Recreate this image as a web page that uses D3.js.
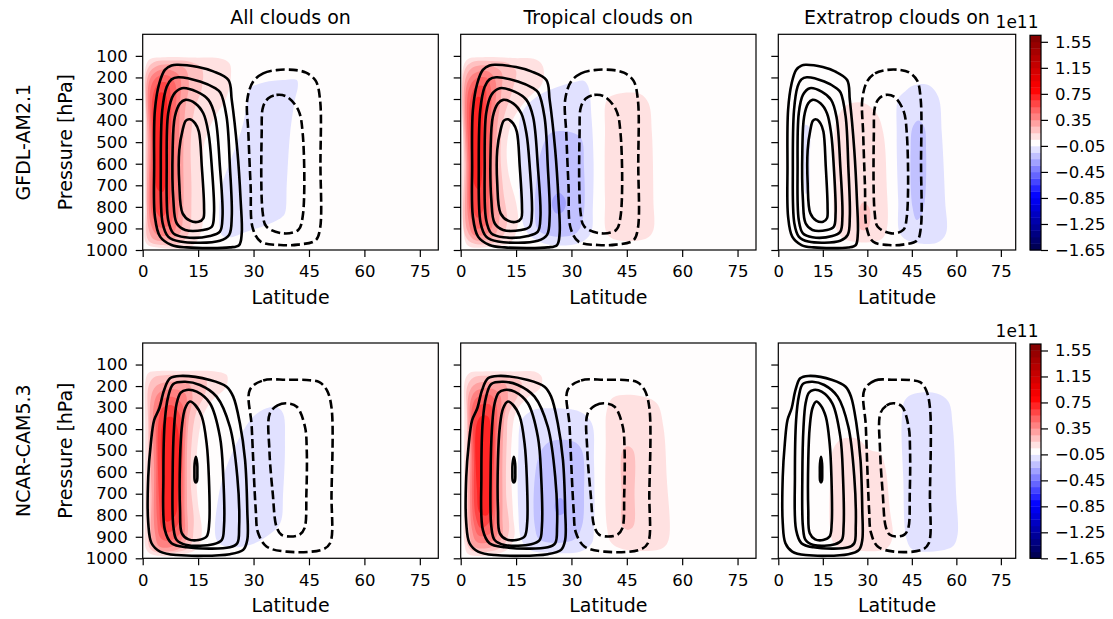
<!DOCTYPE html>
<html>
<head>
<meta charset="utf-8">
<script src="https://cdn.jsdelivr.net/npm/d3@7"></script>
<style>
  body { margin: 0; background: #fff; }
  svg text { font-family: "DejaVu Sans", sans-serif; fill: #000; }
</style>
</head>
<body>
<div id="chart"></div>
<script>
/**
 * DATA
 * latitude in degrees, pressure in hPa, shading in units of 1e11
 * */
const models = ["GFDL-AM2.1", "NCAR-CAM5.3"];
const experiments = ["All clouds on", "Tropical clouds on", "Extratrop clouds on"];
const latTicks = [0, 15, 30, 45, 60, 75];
const pressureTicks = [100, 200, 300, 400, 500, 600, 700, 800, 900, 1000];
const cbarTicks = [-1.65, -1.25, -0.85, -0.45, -0.05, 0.35, 0.75, 1.15, 1.55];
const cbarLevels = [-1.65, -1.55, -1.45, -1.35, -1.25, -1.15, -1.05, -0.95, -0.85, -0.75, -0.65,
  -0.55, -0.45, -0.35, -0.25, -0.15, -0.05, 0.05, 0.15, 0.25, 0.35, 0.45, 0.55, 0.65, 0.75,
  0.85, 0.95, 1.05, 1.15, 1.25, 1.35, 1.45, 1.55, 1.65];

// control streamfunction contours (same in every column of a row)
const gfdlPsiPos = [
  [[7.8,145],[9.2,141],[15,152],[19.1,172],[23.2,212],[24.1,304],[25.6,536],[26.5,768],[26.8,923],[26.1,977],[23.6,988],[11.9,988],[7.8,977],[4.7,938],[3.3,845],[3.1,614],[3.3,351],[4.5,227],[6,165]],
  [[7.8,209],[9.6,199],[15.5,219],[19.6,250],[21,270],[22.7,382],[23.6,614],[24.1,845],[23.4,930],[20.9,957],[10.1,961],[6.9,938],[5.4,876],[4.9,614],[5.3,351],[6.5,243]],
  [[8.3,281],[10.6,250],[14.6,266],[17.8,304],[19.6,382],[20.9,614],[21.6,845],[20.9,915],[18.2,935],[11.5,941],[8.3,923],[6.9,861],[6.5,614],[6.9,366]],
  [[10.1,320],[11.5,304],[14.2,320],[16.4,366],[17.8,459],[18.7,614],[19.3,830],[18.7,892],[16.4,907],[11.5,907],[9.2,876],[8.3,768],[8.1,536],[8.7,382]],
  [[11.7,400],[12.8,394],[14.2,413],[15.2,451],[16,614],[16.6,799],[16.4,853],[15.1,869],[12.8,864],[10.8,830],[9.9,691],[9.9,536],[10.8,444]]
];
const gfdlPsiNeg = [
  [[29.9,219],[32.6,181],[36.2,166],[40.8,165],[44.2,178],[46.8,215],[48,304],[48.1,600],[48,900],[46.8,955],[42,975],[37.2,977],[32,962],[29.8,900],[29.2,700],[28.6,459],[28.3,304]],
  [[34,297],[36.2,281],[39,289],[42.1,351],[43.3,459],[43.3,845],[42.1,907],[38.1,923],[33.5,892],[32.5,830],[32.2,459],[32.6,335]]
];
const ncarPsiPos = [
  [[7.4,164],[10.1,153],[18.2,172],[22.7,203],[24.5,249],[26.3,373],[27.7,543],[28.3,776],[28.3,915],[27.2,961],[23.6,981],[9.2,985],[4.7,969],[2.4,930],[1.5,837],[1.5,621],[2.2,466],[3.1,358],[4.5,303],[5.8,218]],
  [[8.3,190],[11.5,180],[15.5,195],[20,249],[23.6,389],[25.6,621],[26.1,853],[25.6,930],[23.6,949],[11.9,949],[7.8,930],[6,868],[5.6,621],[6,358],[6.9,249]],
  [[10.3,231],[11.9,218],[14.6,226],[18.2,280],[20.9,435],[21.8,621],[22,853],[21.4,915],[19.1,935],[11.9,938],[9.2,915],[8.3,853],[8.1,621],[8.5,389],[9.2,280]],
  [[11.5,303],[12.8,272],[14.2,288],[16,342],[17.3,466],[17.9,621],[18,837],[17.3,899],[15.1,915],[12.4,912],[10.6,884],[10.1,776],[10.1,543],[10.6,389]],
  [[14.4,528],[14.75,560],[14.8,600],[14.7,640],[14.4,648],[14.1,640],[14.0,600],[14.05,560]]
];
const ncarPsiNeg = [
  [[29,218],[32.6,174],[39,171],[44.4,172],[47.8,182],[49.8,218],[51.1,300],[51.1,700],[50.7,930],[48.5,960],[39,969],[33.5,945],[31.2,880],[30.6,776],[29.5,388]],
  [[34.4,327],[36.5,290],[39,280],[41.7,296],[43.9,388],[44.4,500],[44.3,700],[43.8,860],[42.5,890],[39.9,899],[37.5,890],[36.2,853],[35.2,700],[34.3,500]]
];

// shading: [band value, outline]
const gfdlAllShade = [
  [0.1, [[0.8,150],[2,115],[6,106],[14,108],[21,112],[23.5,135],[23.8,210],[22.5,300],[19,400],[16.5,520],[16.3,750],[16,900],[13.5,980],[4,988],[1,970],[0.7,800],[0.7,400]]],
  [0.2, [[1.1,170],[3,130],[8,122],[13,128],[16,160],[16,250],[14,350],[13,500],[13.2,750],[12.5,920],[10,970],[4,975],[1.5,955],[1.1,800],[1,400]]],
  [0.3, [[1.5,190],[3.5,150],[8,140],[11.5,160],[12.5,230],[11.5,350],[11,550],[11,800],[10,925],[7,955],[3,950],[1.6,900],[1.4,500]]],
  [0.4, [[1.9,210],[4,170],[7.5,165],[10,195],[10,350],[9.6,600],[9.5,850],[8,925],[4,930],[2.2,880],[1.9,500]]],
  [0.5, [[2.3,240],[4.2,195],[7,192],[8.8,230],[8.6,450],[8.4,750],[7.5,880],[4.5,895],[2.6,840],[2.3,500]]],
  [0.6, [[2.8,280],[4.5,225],[6.8,228],[7.6,290],[7.4,600],[7,800],[5,850],[3.2,800],[2.8,550]]],
  [0.7, [[3.4,330],[4.8,270],[6.2,280],[6.5,400],[6.3,650],[5.5,730],[4,720],[3.4,600]]],
  [-0.1, [[29,250],[33,222],[38,212],[41.7,212],[42,240],[41.2,304],[39.9,459],[39,691],[38.5,830],[37.5,850],[33.5,884],[28.1,915],[23.6,941],[21.4,930],[20.7,845],[21.4,706],[24.5,552],[27.2,413],[28.6,274]]]
];
const gfdlTropShade = [
  [0.1, [[0.7,150],[2,114],[6,106],[14,110],[20.5,118],[22.3,150],[22,230],[18,300],[14,400],[12.5,520],[13,650],[15,780],[15.5,880],[13.5,965],[8,985],[2,980],[0.7,900],[0.6,450]]],
  [0.2, [[1,170],[3,130],[8,124],[13,135],[15,170],[14,260],[11.5,400],[10.8,550],[11.5,720],[12.5,880],[10.5,955],[4,972],[1.4,940],[1,600]]],
  [0.3, [[1.4,200],[3.5,152],[8,146],[11,175],[11,270],[9.8,450],[9.5,650],[10.5,850],[9,935],[4,955],[1.8,910],[1.4,600]]],
  [0.4, [[1.8,225],[4,178],[7.5,172],[9.4,215],[9,400],[8.5,600],[9,850],[7.5,920],[3.5,930],[2.1,860],[1.8,600]]],
  [0.5, [[2.2,255],[4.2,205],[7,202],[8.2,255],[7.8,500],[7.6,750],[7,880],[4,900],[2.5,830],[2.2,600]]],
  [0.6, [[2.7,295],[4.4,240],[6.5,245],[7,320],[6.8,600],[6.4,800],[4.5,850],[3,780],[2.7,550]]],
  [0.7, [[3.3,345],[4.6,290],[5.8,300],[6,420],[5.8,650],[5,720],[3.8,700],[3.3,550]]],
  [-0.1, [[16.2,380],[18.5,320],[22,275],[26,245],[30,225],[33.3,215],[34.5,240],[35.5,400],[36,600],[35.8,800],[35.3,920],[32.5,965],[25,978],[20.5,955],[17.5,905],[16.1,780],[15.9,550]]],
  [-0.2, [[24.2,460],[28.5,450],[32.5,480],[33.4,614],[33.2,845],[31.4,920],[26,938],[21,907],[20.1,799],[20.5,680],[21.5,560]]],
  [-0.3, [[26.6,735],[28.2,760],[28.5,790],[27.5,825],[25.8,830],[24.8,800],[25,760]]],
  [0.1, [[39.6,304],[42.3,277],[48.6,277],[50.9,320],[51.8,459],[52.2,768],[52.2,907],[50.4,946],[42.3,954],[39.6,923],[39.1,768],[39.1,459]]]
];
const gfdlExtraShade = [
  [0.1, [[18.8,490],[19.7,397],[23,328],[28.7,318],[33.1,366],[35.4,459],[36.5,691],[36.5,907],[34.3,954],[23,954],[19.7,907],[18.5,691]]],
  [0.2, [[28.5,780],[30.5,800],[31,860],[30,905],[27.8,905],[27.2,850],[27.5,800]]],
  [-0.1, [[9,420],[10.3,430],[10.6,600],[10.4,720],[9.3,740],[8.6,620],[8.6,460]]],
  [-0.1, [[42.7,265],[45.5,237],[50.5,235],[53.9,289],[55.1,459],[56.2,768],[56.5,923],[53.4,966],[44.4,961],[41,923],[40.4,768],[39.9,459],[40.4,300]]],
  [-0.2, [[47.2,400],[49.2,430],[49.8,536],[49.4,768],[48.2,840],[46.6,861],[45.2,800],[44.6,536],[45.3,430]]]
];
const ncarAllShade = [
  [0.1, [[0.8,170],[1.6,138],[4,130],[12,130],[20,133],[22.8,150],[22.5,205],[19,262],[16.5,330],[15,450],[14.5,600],[15,750],[16,870],[15,950],[11,982],[3,985],[1,960],[0.7,800],[0.7,400]]],
  [0.2, [[1.6,200],[3,160],[6,150],[12,150],[17,165],[17,230],[14.5,320],[13.3,450],[13,650],[13.8,850],[12.5,950],[5,975],[2,955],[1.6,800],[1.5,400]]],
  [0.3, [[2.4,240],[4,195],[8,180],[12.5,190],[13.5,250],[12.5,350],[12,500],[12,750],[12,900],[10,955],[5,965],[2.8,930],[2.4,700]]],
  [0.4, [[3.1,280],[4.5,230],[8,215],[11.5,235],[11.8,330],[11.4,500],[11.3,750],[11,900],[8,945],[4.5,945],[3.3,880],[3.1,600]]],
  [0.5, [[3.8,310],[5,265],[8,250],[10.8,290],[10.8,450],[10.7,750],[10.2,880],[7,920],[4.8,905],[3.9,820],[3.7,550]]],
  [0.6, [[4.4,350],[5.5,300],[8,290],[10.2,340],[10.2,700],[9.6,840],[7,880],[5.2,860],[4.5,750]]],
  [0.7, [[5.1,400],[6.2,350],[8,345],[9.5,400],[9.5,700],[8.8,800],[6.5,830],[5.4,780],[5.1,600]]],
  [-0.1, [[33.5,303],[36.2,296],[38,327],[38.5,466],[38,698],[37.2,837],[33.5,899],[29,938],[22.7,946],[20,915],[20.5,714],[22.7,574],[26.3,435],[29.9,342]]]
];
const ncarTropShade = [
  [0.1, [[1.2,170],[2.5,138],[6,132],[14,132],[20.5,136],[22,160],[21.5,210],[18,255],[15,320],[13.8,450],[13.7,620],[14.2,800],[14.5,900],[12.5,962],[6,988],[2,980],[1,930],[0.9,700],[1,350]]],
  [0.2, [[1.8,200],[3.5,160],[8,152],[14,158],[16.5,185],[15.5,245],[13,330],[12.5,450],[12.3,700],[13,880],[11,950],[4,970],[2,945],[1.7,700],[1.7,350]]],
  [0.3, [[2.3,230],[4,190],[8,180],[12,190],[12.8,250],[11.8,350],[11.3,550],[11.3,800],[11,910],[8,950],[3.5,945],[2.4,880],[2.2,500]]],
  [0.4, [[2.8,260],[4.4,220],[8,210],[10.6,240],[10.6,400],[10.2,650],[10.3,850],[9,915],[4.5,925],[3,860],[2.7,500]]],
  [0.5, [[3.2,290],[4.7,250],[8,240],[9.6,280],[9.5,500],[9.3,800],[8.3,880],[5,895],[3.5,830],[3.1,550]]],
  [0.6, [[3.7,330],[5,290],[7.8,285],[8.9,330],[8.8,650],[8.2,820],[5.5,860],[4,800],[3.6,550]]],
  [0.7, [[4.3,380],[5.5,340],[7.3,340],[8.2,400],[8.1,700],[7.2,800],[5.2,790],[4.4,680]]],
  [-0.1, [[16.5,358],[19.7,311],[24.2,303],[32.3,319],[35.5,373],[36.1,543],[36.1,853],[35.5,930],[32.3,969],[24.2,974],[18.8,961],[16.5,915],[15.6,776],[15.6,512]]],
  [-0.2, [[21.5,512],[24.2,458],[30.5,458],[32.8,497],[33.4,698],[32.8,853],[30.5,915],[21.5,915],[20.1,853],[20.1,621]]],
  [-0.3, [[27,720],[28.3,745],[28,790],[26.5,800],[25.5,770],[25.8,735]]],
  [0.1, [[39.6,311],[41.4,252],[48.6,246],[53.1,280],[54.9,389],[55.8,621],[56.3,915],[54.5,954],[45,961],[40.9,930],[39.6,853],[39.3,466]]],
  [0.2, [[43.8,500],[45.3,480],[46.8,500],[47.1,700],[46.8,850],[45.3,868],[43.8,850],[43.6,700]]]
];
const ncarExtraShade = [
  [0.1, [[18,513],[20.8,450],[26.4,443],[30.9,497],[34.3,512],[36,574],[37.6,776],[38.5,899],[36.5,954],[26.4,964],[19.1,938],[17.4,853],[17.4,652]]],
  [-0.1, [[42.7,265],[45.5,237],[53.4,234],[57.3,272],[58.8,389],[59.9,698],[60.3,899],[58.4,949],[45.5,961],[43.3,915],[42.1,621],[41.6,358]]]
];

/**
 * LAYOUT
 * */
const width = 1113, height = 619;
const colLeft = [142.7, 460.7, 778.3],
    colRight = [438.3, 756, 1015.7],
    rowTop = [34.3, 343],
    rowBottom = [250, 558.3],
    cbarX = [1030, 1041];
const tickFont = 16.5, labelFont = 19;

const panels = [
  { row: 0, col: 0, shade: gfdlAllShade, pos: gfdlPsiPos, neg: gfdlPsiNeg },
  { row: 0, col: 1, shade: gfdlTropShade, pos: gfdlPsiPos, neg: gfdlPsiNeg },
  { row: 0, col: 2, shade: gfdlExtraShade, pos: gfdlPsiPos, neg: gfdlPsiNeg },
  { row: 1, col: 0, shade: ncarAllShade, pos: ncarPsiPos, neg: ncarPsiNeg },
  { row: 1, col: 1, shade: ncarTropShade, pos: ncarPsiPos, neg: ncarPsiNeg },
  { row: 1, col: 2, shade: ncarExtraShade, pos: ncarPsiPos, neg: ncarPsiNeg },
];

// seismic colormap, sampled like a 256 entry lookup table
const seismic = d3.scaleLinear()
    .domain([0, 0.25, 0.5, 0.75, 1])
    .range(["#00004d", "#0000ff", "#ffffff", "#ff0000", "#800000"]);
const cmin = cbarLevels[0], cmax = cbarLevels[cbarLevels.length - 1];
function bandColor(v) {
  const t = (v - cmin) / (cmax - cmin);
  return seismic(Math.min(255, Math.floor(t * 256)) / 255);
}

const svg = d3.select("#chart").append("svg")
    .attr("width", width)
    .attr("height", height);

function styleAxis(g) {
  g.attr("font-size", tickFont).attr("font-family", "DejaVu Sans");
  g.select(".domain").remove();
  g.selectAll(".tick line").attr("stroke", "#000").attr("stroke-width", 1.2);
  g.selectAll(".tick text").attr("fill", "#000");
}

panels.forEach((pn, i) => {
  const x = d3.scaleLinear().domain([0, 80]).range([colLeft[pn.col], colRight[pn.col]]);
  const y = d3.scaleLinear().domain([0, 1000]).range([rowTop[pn.row], rowBottom[pn.row]]);
  const w = colRight[pn.col] - colLeft[pn.col], h = rowBottom[pn.row] - rowTop[pn.row];

  const g = svg.append("g");
  g.append("clipPath").attr("id", "clip" + i)
    .append("rect").attr("x", colLeft[pn.col]).attr("y", rowTop[pn.row]).attr("width", w).attr("height", h);

  const plot = g.append("g").attr("clip-path", `url(#clip${i})`);
  plot.append("rect")
    .attr("x", colLeft[pn.col]).attr("y", rowTop[pn.row]).attr("width", w).attr("height", h)
    .attr("fill", bandColor(0));

  const outline = d3.line()
    .x(d => x(d[0]))
    .y(d => y(d[1]))
    .curve(d3.curveCatmullRomClosed.alpha(0.5));

  plot.selectAll("path.shade")
    .data(pn.shade)
    .join("path")
    .attr("class", "shade")
    .attr("d", d => outline(d[1]))
    .attr("fill", d => bandColor(d[0]));

  plot.selectAll("path.pos")
    .data(pn.pos)
    .join("path")
    .attr("class", "pos")
    .attr("d", outline)
    .attr("fill", "none")
    .attr("stroke", "#000")
    .attr("stroke-width", 2.6);

  plot.selectAll("path.neg")
    .data(pn.neg)
    .join("path")
    .attr("class", "neg")
    .attr("d", outline)
    .attr("fill", "none")
    .attr("stroke", "#000")
    .attr("stroke-width", 2.6)
    .attr("stroke-dasharray", "9,4");

  // axes
  g.append("g")
    .attr("transform", `translate(0,${rowBottom[pn.row]})`)
    .call(d3.axisBottom(x).tickValues(latTicks).tickSize(7).tickPadding(8.5))
    .call(styleAxis);
  g.append("g")
    .attr("transform", `translate(${colLeft[pn.col]},0)`)
    .call(d3.axisLeft(y).tickValues(pressureTicks).tickSize(7).tickPadding(8)
      .tickFormat(pn.col === 0 ? d3.format("d") : ""))
    .call(styleAxis);

  g.append("rect")
    .attr("x", colLeft[pn.col]).attr("y", rowTop[pn.row]).attr("width", w).attr("height", h)
    .attr("fill", "none").attr("stroke", "#000").attr("stroke-width", 1.2);

  const cx = (colLeft[pn.col] + colRight[pn.col]) / 2;
  g.append("text")
    .attr("x", cx).attr("y", rowBottom[pn.row] + 54)
    .attr("text-anchor", "middle").attr("font-size", labelFont)
    .text("Latitude");
  if (pn.row === 0) {
    g.append("text")
      .attr("x", cx).attr("y", 23.5)
      .attr("text-anchor", "middle").attr("font-size", labelFont)
      .text(experiments[pn.col]);
  }
  if (pn.col === 0) {
    const cy = (rowTop[pn.row] + rowBottom[pn.row]) / 2;
    g.append("text")
      .attr("transform", `translate(72,${cy}) rotate(-90)`)
      .attr("text-anchor", "middle").attr("font-size", labelFont)
      .text("Pressure [hPa]");
    g.append("text")
      .attr("transform", `translate(30,${cy}) rotate(-90)`)
      .attr("text-anchor", "middle").attr("font-size", labelFont)
      .text(models[pn.row]);
  }
});

// colorbars
[0, 1].forEach(r => {
  const cy = d3.scaleLinear().domain([cmin, cmax]).range([rowBottom[r], rowTop[r] + 1]);
  const bands = d3.pairs(cbarLevels);
  const cb = svg.append("g");
  cb.selectAll("rect.band")
    .data(bands)
    .join("rect")
    .attr("class", "band")
    .attr("x", cbarX[0])
    .attr("width", cbarX[1] - cbarX[0])
    .attr("y", d => cy(d[1]))
    .attr("height", d => cy(d[0]) - cy(d[1]) + 0.4)
    .attr("fill", d => bandColor((d[0] + d[1]) / 2));
  cb.append("rect")
    .attr("x", cbarX[0]).attr("y", cy(cmax))
    .attr("width", cbarX[1] - cbarX[0]).attr("height", cy(cmin) - cy(cmax))
    .attr("fill", "none").attr("stroke", "#000").attr("stroke-width", 1.2);
  cb.append("g")
    .attr("transform", `translate(${cbarX[1]},0)`)
    .call(d3.axisRight(cy).tickValues(cbarTicks).tickSize(7).tickPadding(7).tickFormat(d3.format(".2f")))
    .call(styleAxis);
  cb.append("text")
    .attr("x", 1038.5).attr("y", rowTop[r] - 6.3)
    .attr("text-anchor", "end").attr("font-size", 17)
    .text("1e11");
});
</script>
</body>
</html>
